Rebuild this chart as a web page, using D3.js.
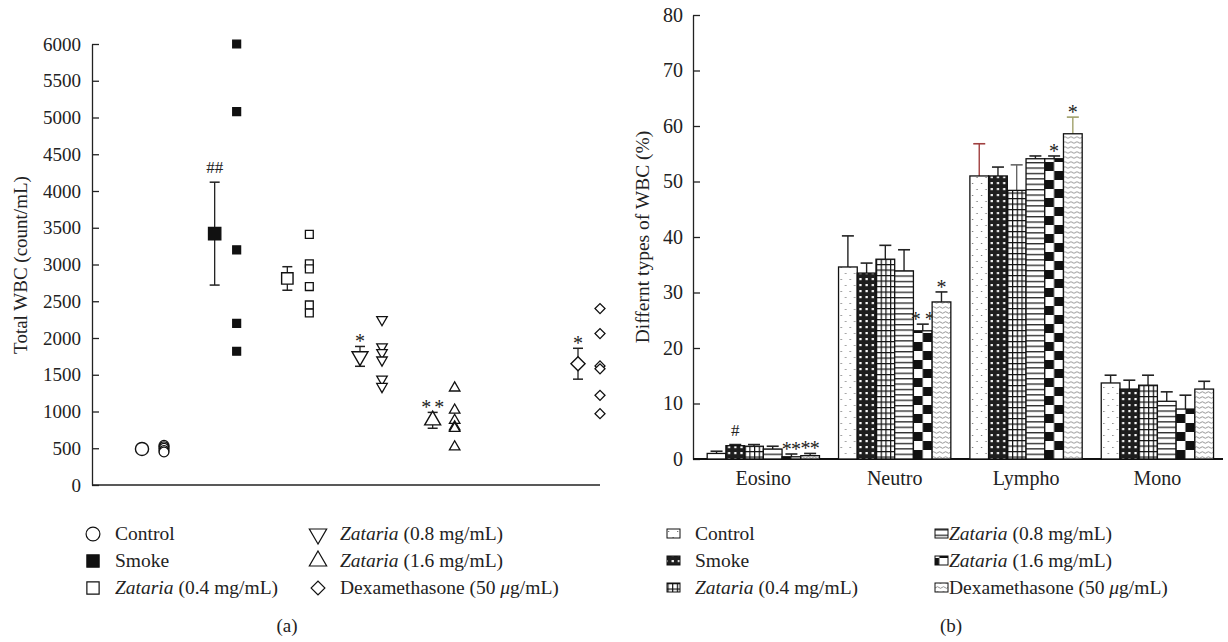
<!DOCTYPE html>
<html>
<head>
<meta charset="utf-8">
<script src="https://cdn.jsdelivr.net/npm/d3@7"></script>
<style>
  body { margin: 0; background: #fff; }
  svg text { font-family: "Liberation Serif", "DejaVu Serif", serif; fill: #222; }
</style>
</head>
<body>
<div id="chart"></div>
<script>
// ---- data, panel (a): total WBC ----
var groupsA = ["Control", "Smoke", "Zataria (0.4 mg/mL)", "Zataria (0.8 mg/mL)", "Zataria (1.6 mg/mL)", "Dexamethasone (50 μg/mL)"];
var meanA = [490, 3420, 2810, 1750, 880, 1650];
var errA = [25, 700, 160, 135, 108, 210];
var pointsA = [
  [540, 520, 500, 470, 450],
  [6000, 5080, 3200, 2200, 1820],
  [3410, 3010, 2940, 2700, 2450, 2340],
  [2250, 1880, 1800, 1700, 1440, 1340],
  [1320, 1020, 880, 790, 770, 520],
  [2400, 2060, 1620, 1580, 1220, 970]
];
var marksA = ["", "##", "", "*", "**", "*"];
var ticksA = [0, 500, 1000, 1500, 2000, 2500, 3000, 3500, 4000, 4500, 5000, 5500, 6000];

// ---- data, panel (b): WBC types ----
var cells = ["Eosino", "Neutro", "Lympho", "Mono"];
var seriesB = ["Control", "Smoke", "Zataria (0.4 mg/mL)", "Zataria (0.8 mg/mL)", "Zataria (1.6 mg/mL)", "Dexamethasone (50 μg/mL)"];
var valuesB = [
  [1.0, 34.6, 51.0, 13.7],
  [2.4, 33.5, 51.0, 12.6],
  [2.3, 36.0, 48.4, 13.3],
  [1.8, 33.9, 54.1, 10.4],
  [0.4, 23.1, 54.1, 9.0],
  [0.6, 28.3, 58.6, 12.6]
];
var errB = [
  [0.4, 5.6, 5.8, 1.4],
  [0.2, 1.8, 1.6, 1.6],
  [0.3, 2.5, 4.6, 1.8],
  [0.5, 3.8, 0.5, 1.7],
  [0.5, 1.2, 0.5, 2.5],
  [0.4, 1.8, 3.0, 1.4]
];
var marksB = [
  ["", "", "", ""],
  ["#", "", "", ""],
  ["", "", "", ""],
  ["", "", "", ""],
  ["**", "**", "*", ""],
  ["**", "*", "*", ""]
];
var ticksB = [0, 10, 20, 30, 40, 50, 60, 70, 80];

var svg = d3.select("#chart").append("svg")
  .attr("width", 1228)
  .attr("height", 642);

var defs = svg.append("defs");

// bar fill patterns
function pat(id, w, h, bg) {
  var p = defs.append("pattern").attr("id", id)
    .attr("patternUnits", "userSpaceOnUse")
    .attr("width", w).attr("height", h);
  p.append("rect").attr("width", w).attr("height", h).attr("fill", bg);
  return p;
}
var p0 = pat("pCtrl", 9, 12, "#fff");
p0.append("rect").attr("x", 2).attr("y", 3).attr("width", 1.3).attr("height", 1).attr("fill", "#777");
p0.append("rect").attr("x", 6.5).attr("y", 9).attr("width", 1.3).attr("height", 1).attr("fill", "#777");

var p1 = pat("pSmoke", 6.2, 6, "#1e1e1e");
p1.append("rect").attr("x", 2.1).attr("y", 2).attr("width", 2.2).attr("height", 2.2).attr("fill", "#fff");

var p2 = pat("pZ04", 4.7, 5.5, "#fff");
p2.append("line").attr("x1", 0.6).attr("x2", 0.6).attr("y1", 0).attr("y2", 5.5).attr("stroke", "#111").attr("stroke-width", 1.2);
p2.append("line").attr("x1", 0).attr("x2", 4.7).attr("y1", 0.6).attr("y2", 0.6).attr("stroke", "#111").attr("stroke-width", 1.2);

var p3 = pat("pZ08", 8, 5.4, "#fff");
p3.append("line").attr("x1", 0).attr("x2", 8).attr("y1", 0.7).attr("y2", 0.7).attr("stroke", "#111").attr("stroke-width", 1.2);

var p4 = pat("pZ16", 18.6, 18, "#fff");
p4.append("rect").attr("x", 0).attr("y", 0).attr("width", 9.3).attr("height", 9).attr("fill", "#111");
p4.append("rect").attr("x", 9.3).attr("y", 9).attr("width", 9.3).attr("height", 9).attr("fill", "#111");

var p5 = pat("pDexa", 6, 5, "#fff");
p5.append("path").attr("d", "M0,2.5 q1.5,-1.6 3,0 t3,0").attr("fill", "none").attr("stroke", "#777").attr("stroke-width", 0.8);

var fills = ["url(#pCtrl)", "url(#pSmoke)", "url(#pZ04)", "url(#pZ08)", "url(#pZ16)", "url(#pDexa)"];

function styleAxis(g, size) {
  g.selectAll("text").attr("font-size", size).attr("fill", "#222")
    .style("font-family", "Liberation Serif");
  g.selectAll("line, path").attr("stroke", "#222").attr("stroke-width", 1.3);
}

// significance marks: each star drawn on its own so they can be spread out
function drawMark(g, cx, top, mark, gap) {
  var hash = mark.charAt(0) === "#";
  var chars = hash ? [mark] : mark.split("");
  chars.forEach(function (ch, k) {
    g.append("text")
      .attr("x", cx + (k - (chars.length - 1) / 2) * gap)
      .attr("y", hash ? top - 9 : top + 2)
      .attr("text-anchor", "middle")
      .attr("font-size", hash ? 17 : 20)
      .attr("fill", "#333")
      .text(ch);
  });
}

// ================= panel (a) =================
var yA = d3.scaleLinear().domain([0, 6000]).range([485, 44]);
var xA = d3.scalePoint()
  .domain([groupsA[0], groupsA[1], groupsA[2], groupsA[3], groupsA[4], "gap", groupsA[5]])
  .range([142, 578]);

var gA = svg.append("g");

gA.append("g")
  .attr("transform", "translate(92,0)")
  .call(d3.axisLeft(yA).tickValues(ticksA).tickFormat(d3.format("d"))
    .tickSize(-7).tickSizeOuter(0).tickPadding(11))
  .call(function (g) { styleAxis(g, 19); });

gA.append("line")
  .attr("x1", 92).attr("x2", 600)
  .attr("y1", 485).attr("y2", 485)
  .attr("stroke", "#222").attr("stroke-width", 1.3);

gA.append("text")
  .attr("transform", "translate(27,265) rotate(-90)")
  .attr("text-anchor", "middle")
  .attr("font-size", 19)
  .text("Total WBC (count/mL)");

// symbols
var symTypes = [d3.symbolCircle, d3.symbolSquare, d3.symbolSquare, d3.symbolTriangle, d3.symbolTriangle, d3.symbolSquare];
var symRot = [0, 0, 0, 180, 0, 45];
var symFill = ["#fff", "#111", "#fff", "#fff", "#fff", "#fff"];

function symPath(i, big) {
  var sizesBig = [135, 150, 130, 110, 110, 100];
  var sizesSmall = [75, 62, 62, 48, 48, 50];
  return d3.symbol().type(symTypes[i]).size(big ? sizesBig[i] : sizesSmall[i])();
}

groupsA.forEach(function (name, i) {
  var cx = xA(name);
  var px = cx + 22;
  var g = gA.append("g");

  // error bar
  var top = yA(meanA[i] + errA[i]), bot = yA(meanA[i] - errA[i]);
  g.append("line").attr("x1", cx).attr("x2", cx).attr("y1", top).attr("y2", bot)
    .attr("stroke", "#222").attr("stroke-width", 1.3);
  [top, bot].forEach(function (yy) {
    g.append("line").attr("x1", cx - 5).attr("x2", cx + 5).attr("y1", yy).attr("y2", yy)
      .attr("stroke", "#222").attr("stroke-width", 1.5);
  });

  // mean marker
  g.append("path")
    .attr("d", symPath(i, true))
    .attr("transform", "translate(" + cx + "," + yA(meanA[i]) + ") rotate(" + symRot[i] + ")")
    .attr("fill", symFill[i]).attr("stroke", "#111").attr("stroke-width", 1.4);

  // individual animals
  g.selectAll(".pt").data(pointsA[i]).enter().append("path")
    .attr("d", symPath(i, false))
    .attr("transform", function (v) { return "translate(" + px + "," + yA(v) + ") rotate(" + symRot[i] + ")"; })
    .attr("fill", symFill[i]).attr("stroke", "#111").attr("stroke-width", 1.3);

  if (marksA[i]) drawMark(g, cx, top, marksA[i], 13);
});

function legendText(g, x, y, name) {
  var t = g.append("text").attr("x", x).attr("y", y + 6).attr("font-size", 19.5);
  if (name.indexOf("Zataria") === 0) {
    t.append("tspan").attr("font-style", "italic").text("Zataria");
    t.append("tspan").text(name.slice(7));
  } else if (name.indexOf("μ") > 0) {
    var k = name.indexOf("μ");
    t.append("tspan").text(name.slice(0, k));
    t.append("tspan").attr("font-style", "italic").text("μ");
    t.append("tspan").text(name.slice(k + 1));
  } else {
    t.text(name);
  }
}

// legend (a)
var legA = svg.append("g");
groupsA.forEach(function (name, i) {
  var col = i < 3 ? 0 : 1;
  var row = i % 3;
  var lx = col ? 318 : 93;
  var ly = 534 + row * 27;
  legA.append("path")
    .attr("d", d3.symbol().type(symTypes[i]).size([150, 150, 150, 130, 130, 95][i])())
    .attr("transform", "translate(" + lx + "," + ly + ") rotate(" + symRot[i] + ")")
    .attr("fill", symFill[i]).attr("stroke", "#111").attr("stroke-width", 1.2);
  legendText(legA, lx + 22, ly, name);
});

svg.append("text").attr("x", 287).attr("y", 632).attr("text-anchor", "middle")
  .attr("font-size", 19).text("(a)");

// ================= panel (b) =================
var yB = d3.scaleLinear().domain([0, 80]).range([459, 15]);
var xB = d3.scaleBand().domain(cells).range([693, 1223])
  .paddingInner(0.145).paddingOuter(0.09).align(0.6);
var xS = d3.scaleBand().domain(seriesB).range([0, xB.bandwidth()]);

var gB = svg.append("g");

gB.append("g")
  .attr("transform", "translate(693,0)")
  .call(d3.axisLeft(yB).tickValues(ticksB).tickSize(-7).tickSizeOuter(0).tickPadding(10))
  .call(function (g) { styleAxis(g, 20); });

gB.append("g")
  .attr("transform", "translate(0,459)")
  .call(d3.axisBottom(xB).tickSize(0).tickPadding(12))
  .call(function (g) {
    styleAxis(g, 20);
    g.select(".domain").attr("stroke", "#111").attr("stroke-width", 2.2).attr("d", "M693,0H1223");
  });

gB.append("text")
  .attr("transform", "translate(649,237) rotate(-90)")
  .attr("text-anchor", "middle")
  .attr("font-size", 19.5)
  .text("Differnt types of WBC (%)");

var errColors = {"Lympho|0": "#a04040", "Lympho|2": "#666", "Lympho|5": "#a0a06a"};

seriesB.forEach(function (s, si) {
  cells.forEach(function (c, ci) {
    var v = valuesB[si][ci];
    var bx = xB(c) + xS(s);
    var bw = xS.bandwidth();
    var g = gB.append("g").attr("transform", "translate(" + bx + ",0)");
    var et = yB(v + errB[si][ci]);
    var ec = errColors[c + "|" + si] || "#222";
    g.append("line").attr("x1", bw / 2).attr("x2", bw / 2)
      .attr("y1", yB(v)).attr("y2", et)
      .attr("stroke", ec).attr("stroke-width", 1.4);
    g.append("line").attr("x1", bw / 2 - 6).attr("x2", bw / 2 + 6)
      .attr("y1", et).attr("y2", et)
      .attr("stroke", ec).attr("stroke-width", 1.6);
    g.append("rect")
      .attr("x", 0).attr("y", yB(v))
      .attr("width", bw).attr("height", yB(0) - yB(v))
      .attr("fill", fills[si]).attr("stroke", "#111").attr("stroke-width", 1.3);
    var m = marksB[si][ci];
    if (m) drawMark(g, bw / 2, et, m, ci === 0 ? bw / 2 : 14);
  });
});

// legend (b)
var legB = svg.append("g");
seriesB.forEach(function (name, i) {
  var col = i < 3 ? 0 : 1;
  var row = i % 3;
  var lx = col ? 935 : 667;
  var ly = 534 + row * 27;
  legB.append("rect")
    .attr("x", lx).attr("y", ly - 5).attr("width", 13).attr("height", 9)
    .attr("fill", fills[i]).attr("stroke", "#111").attr("stroke-width", 1);
  legendText(legB, lx + (col ? 14 : 28), ly, name);
});

svg.append("text").attr("x", 951).attr("y", 632).attr("text-anchor", "middle")
  .attr("font-size", 19).text("(b)");
</script>
</body>
</html>
